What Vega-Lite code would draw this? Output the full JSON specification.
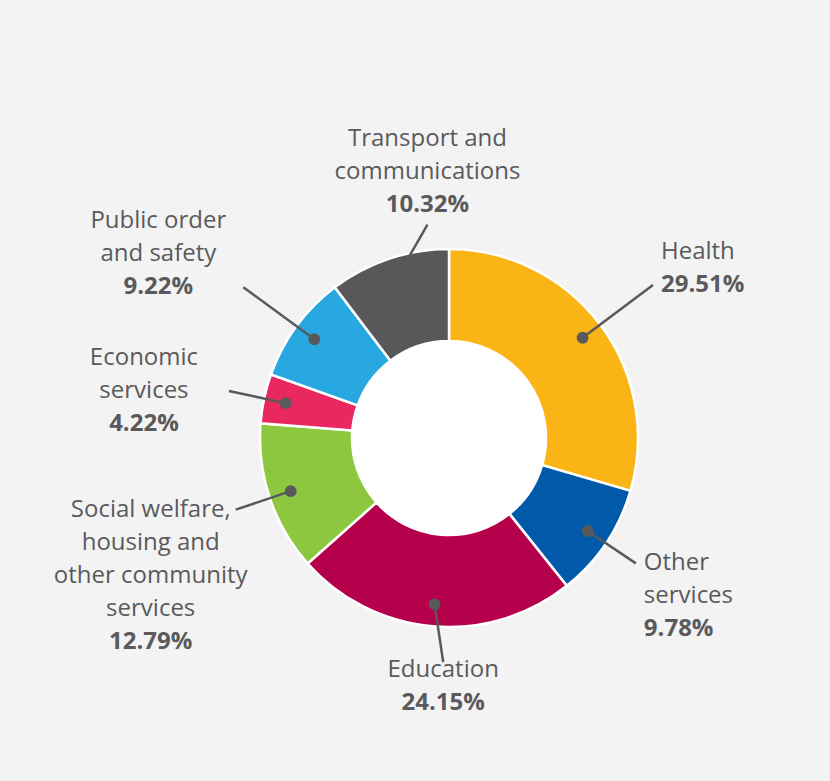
{
  "$schema": "https://vega.github.io/schema/vega-lite/v6.json",
  "autosize": {"type": "none"},
  "width": 760,
  "height": 680,
  "padding": {"left": 69, "top": 98, "right": 1, "bottom": 3},
  "background": "#f3f3f3",
  "config": {"view": {"stroke": null}},
  "data": {
    "values": [
      {"order": 1, "name": "Health", "value": 29.51},
      {"order": 2, "name": "Other\nservices", "value": 9.78},
      {"order": 3, "name": "Education", "value": 24.15},
      {"order": 4, "name": "Social welfare,\nhousing and\nother community\nservices", "value": 12.79},
      {"order": 5, "name": "Economic\nservices", "value": 4.22},
      {"order": 6, "name": "Public order\nand safety", "value": 9.22},
      {"order": 7, "name": "Transport and\ncommunications", "value": 10.32}
    ]
  },
  "transform": [
    {"window": [{"op": "sum", "field": "value", "as": "cum"}], "sort": [{"field": "order"}], "frame": [null, 0]},
    {"joinaggregate": [{"op": "sum", "field": "value", "as": "total"}]},
    {"calculate": "2*PI*(datum.cum - datum.value/2)/datum.total", "as": "a"},
    {"calculate": "167*sin(datum.a)", "as": "dotx"},
    {"calculate": "167*cos(datum.a)", "as": "doty"},
    {"calculate": "cos(datum.a) > 0.3 && cos(datum.a) < 0.85 ? 255 : 225", "as": "rend"},
    {"calculate": "abs(sin(datum.a)) < 0.5 ? 0.3*datum.rend*sin(datum.a) : datum.rend*sin(datum.a)", "as": "endx"},
    {"calculate": "datum.rend*cos(datum.a)", "as": "endy"},
    {"calculate": "sin(datum.a) > 0.5 ? datum.endx + 8 : (sin(datum.a) < -0.5 ? datum.endx - 85 : datum.endx)", "as": "lx"},
    {"calculate": "length(split(datum.name, '\\n')) + 1", "as": "nl"},
    {"calculate": "cos(datum.a) < -0.3 ? datum.endy + (cos(datum.a) < -0.85 ? -8 : 0) : (cos(datum.a) > 0.3 ? datum.endy + (datum.nl-1)*33 + (cos(datum.a) > 0.85 ? 20 : 0) : datum.endy + (datum.nl-1)/2*33)", "as": "ly"},
    {"calculate": "datum.ly - (datum.nl-1)*33", "as": "py"},
    {"calculate": "format(datum.value, '.2f') + '%'", "as": "pctText"},
    {"calculate": "sin(datum.a) > 0.5 ? 'right' : 'other'", "as": "side"}
  ],
  "layer": [
    {
      "mark": {"type": "arc", "theta": 0, "theta2": 6.2832, "radius": 98, "fill": "#ffffff"},
      "encoding": {}
    },
    {
      "mark": {"type": "arc", "radius": 189, "radius2": 97, "stroke": "#ffffff", "strokeWidth": 2.5},
      "encoding": {
        "theta": {"field": "value", "type": "quantitative", "stack": true},
        "order": {"field": "order", "type": "quantitative"},
        "color": {
          "field": "name",
          "type": "nominal",
          "legend": null,
          "scale": {
            "domain": ["Health", "Other\nservices", "Education", "Social welfare,\nhousing and\nother community\nservices", "Economic\nservices", "Public order\nand safety", "Transport and\ncommunications"],
            "range": ["#fbb416", "#005aa9", "#b5004b", "#8dc63f", "#e9285f", "#27a8e0", "#58585a"]
          }
        }
      }
    },
    {
      "mark": {"type": "rule", "color": "#58595b", "strokeWidth": 2.5},
      "encoding": {
        "x": {"field": "dotx", "type": "quantitative", "axis": null, "scale": {"domain": [-380, 380], "nice": false, "zero": false}},
        "y": {"field": "doty", "type": "quantitative", "axis": null, "scale": {"domain": [-340, 340], "nice": false, "zero": false}},
        "x2": {"field": "endx"},
        "y2": {"field": "endy"}
      }
    },
    {
      "mark": {"type": "point", "filled": true, "size": 140, "color": "#58595b", "opacity": 1},
      "encoding": {
        "x": {"field": "dotx", "type": "quantitative", "axis": null, "scale": {"domain": [-380, 380], "nice": false, "zero": false}},
        "y": {"field": "doty", "type": "quantitative", "axis": null, "scale": {"domain": [-340, 340], "nice": false, "zero": false}}
      }
    },
    {
      "transform": [{"filter": "datum.side == 'right'"}],
      "mark": {"type": "text", "align": "left", "baseline": "middle", "lineBreak": "\n", "lineHeight": 33, "font": "Open Sans", "fontSize": 24, "color": "#5a5a5c"},
      "encoding": {
        "x": {"field": "lx", "type": "quantitative", "axis": null, "scale": {"domain": [-380, 380], "nice": false, "zero": false}},
        "y": {"field": "ly", "type": "quantitative", "axis": null, "scale": {"domain": [-340, 340], "nice": false, "zero": false}},
        "text": {"field": "name", "type": "nominal"}
      }
    },
    {
      "transform": [{"filter": "datum.side == 'right'"}],
      "mark": {"type": "text", "align": "left", "baseline": "middle", "font": "Open Sans", "fontSize": 24, "fontWeight": "bold", "color": "#5a5a5c"},
      "encoding": {
        "x": {"field": "lx", "type": "quantitative", "axis": null, "scale": {"domain": [-380, 380], "nice": false, "zero": false}},
        "y": {"field": "py", "type": "quantitative", "axis": null, "scale": {"domain": [-340, 340], "nice": false, "zero": false}},
        "text": {"field": "pctText", "type": "nominal"}
      }
    },
    {
      "transform": [{"filter": "datum.side == 'other'"}],
      "mark": {"type": "text", "align": "center", "baseline": "middle", "lineBreak": "\n", "lineHeight": 33, "font": "Open Sans", "fontSize": 24, "color": "#5a5a5c"},
      "encoding": {
        "x": {"field": "lx", "type": "quantitative", "axis": null, "scale": {"domain": [-380, 380], "nice": false, "zero": false}},
        "y": {"field": "ly", "type": "quantitative", "axis": null, "scale": {"domain": [-340, 340], "nice": false, "zero": false}},
        "text": {"field": "name", "type": "nominal"}
      }
    },
    {
      "transform": [{"filter": "datum.side == 'other'"}],
      "mark": {"type": "text", "align": "center", "baseline": "middle", "font": "Open Sans", "fontSize": 24, "fontWeight": "bold", "color": "#5a5a5c"},
      "encoding": {
        "x": {"field": "lx", "type": "quantitative", "axis": null, "scale": {"domain": [-380, 380], "nice": false, "zero": false}},
        "y": {"field": "py", "type": "quantitative", "axis": null, "scale": {"domain": [-340, 340], "nice": false, "zero": false}},
        "text": {"field": "pctText", "type": "nominal"}
      }
    }
  ]
}
